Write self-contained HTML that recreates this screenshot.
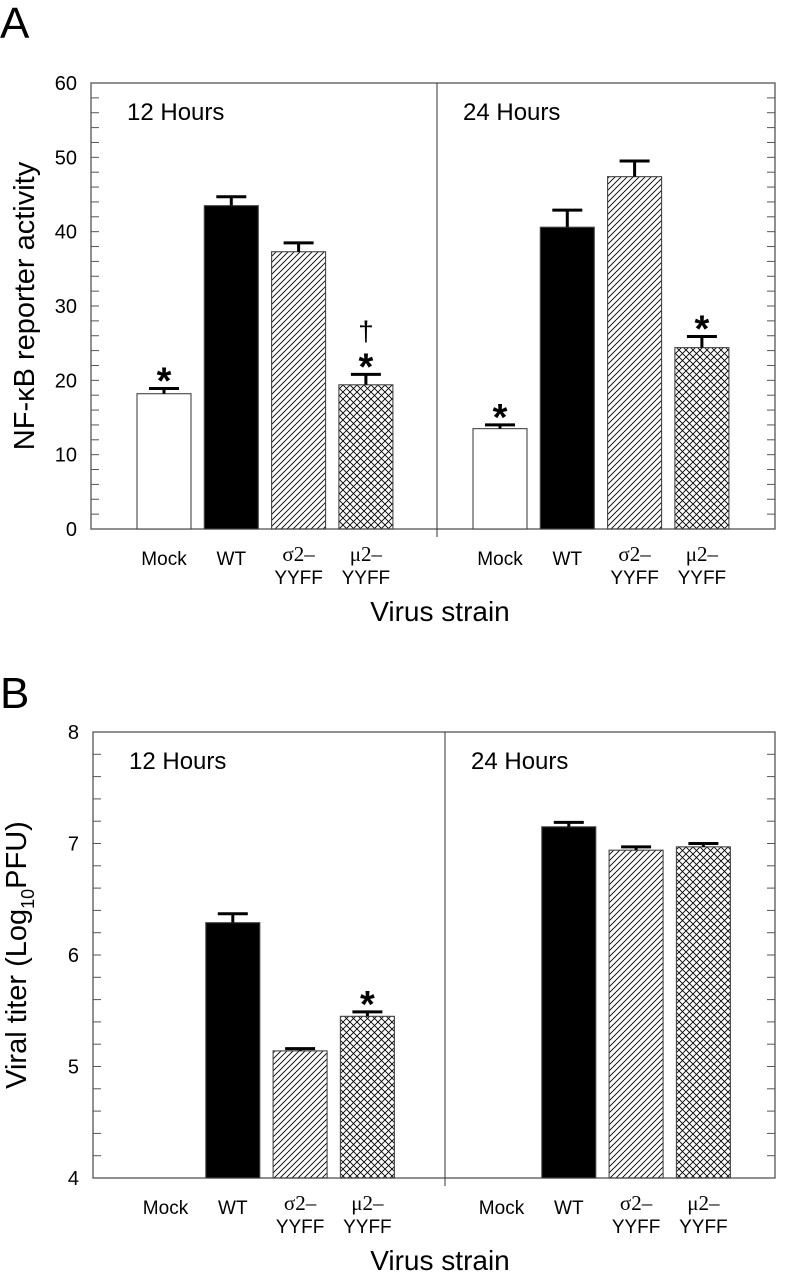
<!DOCTYPE html>
<html><head><meta charset="utf-8"><style>
body{margin:0;background:#fff}
svg{display:block;font-family:"Liberation Sans",Arial,sans-serif}
</style></head><body>
<svg id="fig" width="800" height="1275" viewBox="0 0 800 1275" xmlns="http://www.w3.org/2000/svg">
<defs>
<pattern id="hatch" patternUnits="userSpaceOnUse" width="6" height="6"><path d="M-1,7 L7,-1 M-4,4 L4,-4 M2,10 L10,2" stroke="#000" stroke-width="0.9"/></pattern>
<pattern id="cross" patternUnits="userSpaceOnUse" width="7" height="7"><path d="M-1,8 L8,-1 M-1,-1 L8,8" stroke="#000" stroke-width="0.9"/></pattern>
</defs>
<text x="0" y="38" font-size="44">A</text>
<text x="0" y="708" font-size="44">B</text>
</svg>
<script>
const categories = ["Mock","WT","σ2–YYFF","μ2–YYFF"];
const aValues12 = [18.2, 43.5, 37.3, 19.4];
const aErr12 = [0.7, 1.2, 1.2, 1.4];
const aValues24 = [13.5, 40.6, 47.4, 24.4];
const aErr24 = [0.5, 2.3, 2.1, 1.5];
const aTicks = [0,10,20,30,40,50,60];
const bValues12 = [null, 6.29, 5.14, 5.45];
const bErr12 = [0, 0.08, 0.02, 0.04];
const bValues24 = [null, 7.15, 6.94, 6.97];
const bErr24 = [0, 0.04, 0.03, 0.03];
const bTicks = [4,5,6,7,8];
const aMarks12 = ["*","","","†*"];
const aMarks24 = ["*","","","*"];
const bMarks12 = ["","","","*"];

const svg = document.getElementById('fig');
const NS = 'http://www.w3.org/2000/svg';
function mk(tag, attrs, parent){const e=document.createElementNS(NS,tag);for(const k in attrs)e.setAttribute(k,attrs[k]);(parent||svg).appendChild(e);return e;}
const fills=['#fff','#000','url(#hatch)','url(#cross)'];

function panel(cfg){
  const g=mk('g',{});
  
  
  const y=v=>cfg.bottom-(v-cfg.min)/(cfg.max-cfg.min)*(cfg.bottom-cfg.top);
  const frame=mk('rect',{x:cfg.left,y:cfg.top,width:cfg.right-cfg.left,height:cfg.bottom-cfg.top,fill:'none',stroke:'#555','stroke-width':1.3},g);
  
  
  const dv=mk('line',{x1:cfg.div,x2:cfg.div,y1:cfg.top,y2:cfg.bottom+8,stroke:'#333','stroke-width':1},g);
  
  
  const n=Math.round((cfg.max-cfg.min)/cfg.minor);
  for(let i=1;i<n;i++){
    const v=cfg.min+i*cfg.minor, yy=y(v);
    mk('line',{x1:cfg.left,x2:cfg.left+8,y1:yy,y2:yy,stroke:'#555','stroke-width':1},g);
    mk('line',{x1:cfg.right-8,x2:cfg.right,y1:yy,y2:yy,stroke:'#555','stroke-width':1},g);
  }
  cfg.ticks.forEach(t=>{
    const tl=mk('text',{x:cfg.left-14,y:y(t)+7,'font-size':20,'text-anchor':'end'},g);
    tl.textContent=t;
    
    
  });
  const yt=mk('text',{x:0,y:0,'font-size':29,'text-anchor':'middle',transform:`translate(${cfg.titleX},${(cfg.top+cfg.bottom)/2}) rotate(-90)`},g);
  yt.innerHTML=cfg.ytitle;
  
  
  const xt=mk('text',{x:440,y:cfg.bottom+92,'font-size':28,'text-anchor':'middle'},g);
  xt.textContent='Virus strain';
  
  
  [[cfg.left+36,'12 Hours'],[cfg.div+26,'24 Hours']].forEach(([x,t])=>{
    const h=mk('text',{x:x,y:cfg.top+37,'font-size':24},g);
    h.textContent=t;
    
    
  });
  [[cfg.x12,cfg.v12,cfg.e12,cfg.m12],[cfg.x24,cfg.v24,cfg.e24,cfg.m24]].forEach(([x0,vals,errs,marks])=>{
    vals.forEach((v,i)=>{
      const bx=x0+i*67.3, w=54, cx=bx+w/2;
      if(v!==null){
        const r=mk('rect',{x:bx,y:y(v),width:w,height:cfg.bottom-y(v),fill:fills[i],stroke:'#444','stroke-width':1.1},g);
        
        
        const ye=y(v+errs[i]);
        mk('line',{x1:cx,x2:cx,y1:y(v),y2:ye,stroke:'#000','stroke-width':3},g);
        const cap=mk('line',{x1:cx-15,x2:cx+15,y1:ye,y2:ye,stroke:'#000','stroke-width':3},g);
        
        
        const m=marks?marks[i]:'';
        if(m.includes('*')){
          const s=mk('text',{x:cx,y:ye+5,'font-size':38,'font-weight':'bold','text-anchor':'middle'},g);
          s.textContent='*';
          
          
        }
        if(m.includes('†')){
          const d=mk('text',{x:cx,y:ye-34,'font-size':28,'text-anchor':'middle'},g);
          d.textContent='†';
          
          
        }
      }
      const lbl=[['Mock'],['WT'],['σ2–','YYFF'],['μ2–','YYFF']][i];
      lbl.forEach((t,j)=>{
        const tx=mk('text',{x:cx,y:cfg.bottom+(lbl.length==1?36:32+j*23),'font-size':(j==0&&lbl.length>1)?21:19,'text-anchor':'middle','font-family':(j==0&&lbl.length>1)?'"Liberation Serif",serif':'"Liberation Sans",sans-serif'},g);
        tx.textContent=t;
        
        
      });
    });
  });
}
panel({name:'panel-a-nfkb',left:91,right:775,top:83,bottom:529,div:437,min:0,max:60,minor:2,ticks:aTicks,
  titleX:34,ytitle:'NF-κB reporter activity',x12:137,x24:473,v12:aValues12,e12:aErr12,v24:aValues24,e24:aErr24,m12:aMarks12,m24:aMarks24});
panel({name:'panel-b-titer',left:93,right:775,top:732,bottom:1178,div:445,min:4,max:8,minor:0.2,ticks:bTicks,
  titleX:26,ytitle:'Viral titer (Log<tspan font-size="18" dy="8">10</tspan><tspan dy="-8">PFU)</tspan>',x12:138.5,x24:474.5,v12:bValues12,e12:bErr12,v24:bValues24,e24:bErr24,m12:bMarks12,m24:null});
</script>
</body></html>
